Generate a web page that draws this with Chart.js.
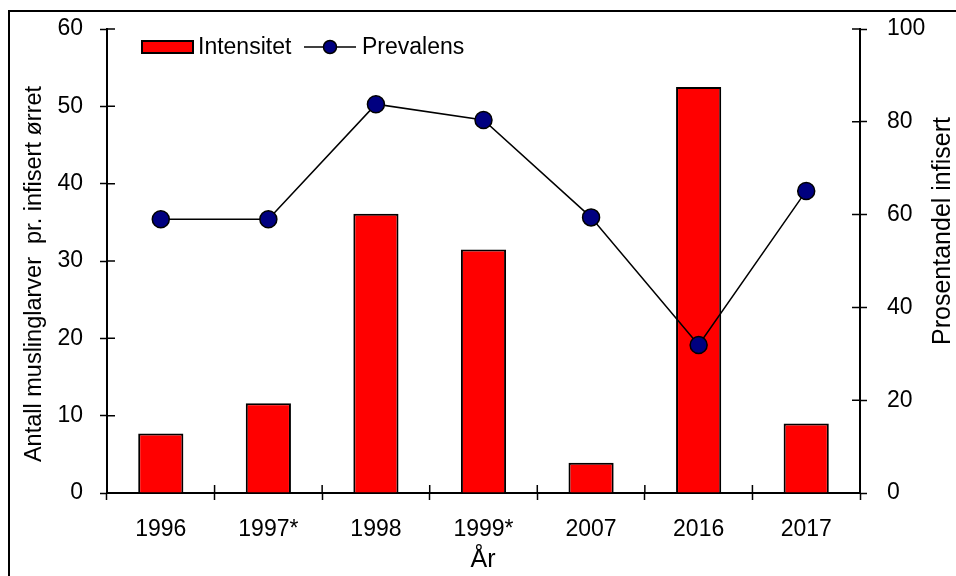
<!DOCTYPE html>
<html>
<head>
<meta charset="utf-8">
<script src="https://cdn.jsdelivr.net/npm/chart.js@4"></script>
<style>
  body { margin: 0; background: #fff; }
  #wrap { width: 956px; height: 576px; }
</style>
</head>
<body>
<div id="wrap"><canvas id="chart" width="956" height="576"></canvas></div>
<script>
const years = ['1996', '1997*', '1998', '1999*', '2007', '2016', '2017'];
const intensitet = [7.7, 11.6, 36.1, 31.5, 3.9, 52.5, 9.0];
const prevalens = [59, 59, 83.8, 80.4, 59.4, 31.9, 65.1];
const leftTicks = [0, 10, 20, 30, 40, 50, 60];
const rightTicks = [0, 20, 40, 60, 80, 100];

const FONT = 'Liberation Sans, Arial, sans-serif';

// inward half of the crossing tick marks, legend, axis titles, outer frame
const extras = {
    id: 'extras',
    afterDraw(chart) {
        const ctx = chart.ctx;
        const area = chart.chartArea;
        const y = chart.scales.y, y1 = chart.scales.y1;
        ctx.save();
        ctx.strokeStyle = '#000';
        ctx.lineWidth = 1.5;
        ctx.beginPath();
        leftTicks.forEach(v => {
            const p = y.getPixelForValue(v);
            ctx.moveTo(area.left, p); ctx.lineTo(area.left + 8, p);
        });
        rightTicks.forEach(v => {
            const p = y1.getPixelForValue(v);
            ctx.moveTo(area.right - 8, p); ctx.lineTo(area.right, p);
        });
        const step = (area.right - area.left) / years.length;
        for (let i = 0; i <= years.length; i++) {
            const p = area.left + i * step;
            ctx.moveTo(p, area.bottom - 8); ctx.lineTo(p, area.bottom);
        }
        ctx.stroke();

        // frame
        ctx.lineWidth = 2;
        ctx.beginPath();
        ctx.moveTo(9, 576); ctx.lineTo(9, 11); ctx.lineTo(956, 11);
        ctx.stroke();

        // legend
        ctx.fillStyle = '#ff0000';
        ctx.fillRect(142, 41, 51, 12);
        ctx.lineWidth = 2;
        ctx.strokeRect(142, 41, 51, 12);
        ctx.fillStyle = '#000';
        ctx.font = '23px ' + FONT;
        ctx.textBaseline = 'middle';
        ctx.textAlign = 'left';
        ctx.fillText('Intensitet', 198, 48);
        ctx.lineWidth = 1.5;
        ctx.beginPath();
        ctx.moveTo(304, 47); ctx.lineTo(356, 47);
        ctx.stroke();
        ctx.beginPath();
        ctx.arc(330, 47, 6.5, 0, Math.PI * 2);
        ctx.fillStyle = '#000080';
        ctx.fill();
        ctx.stroke();
        ctx.fillStyle = '#000';
        ctx.fillText('Prevalens', 362, 48);

        // axis titles
        ctx.textAlign = 'center';
        ctx.font = '25px ' + FONT;
        ctx.fillText('År', 483, 560);
        ctx.save();
        ctx.translate(35, 274);
        ctx.rotate(-Math.PI / 2);
        ctx.font = '23.5px ' + FONT;
        ctx.fillText('Antall muslinglarver  pr. infisert ørret', 0, 0);
        ctx.restore();
        ctx.save();
        ctx.translate(943, 231);
        ctx.rotate(-Math.PI / 2);
        ctx.font = '25px ' + FONT;
        ctx.fillText('Prosentandel infisert', 0, 0);
        ctx.restore();
        ctx.restore();
    }
};

new Chart(document.getElementById('chart'), {
    data: {
        labels: years,
        datasets: [
            {
                type: 'line',
                label: 'Prevalens',
                data: prevalens,
                yAxisID: 'y1',
                order: 0,
                borderColor: '#000',
                borderWidth: 1.5,
                pointRadius: 8.5,
                pointBackgroundColor: '#000080',
                pointBorderColor: '#000',
                pointBorderWidth: 1.5,
                tension: 0
            },
            {
                type: 'bar',
                label: 'Intensitet',
                data: intensitet,
                yAxisID: 'y',
                order: 1,
                backgroundColor: '#ff0000',
                borderColor: '#000',
                borderWidth: 2,
                borderSkipped: 'bottom',
                categoryPercentage: 1,
                barPercentage: 0.42
            }
        ]
    },
    options: {
        responsive: false,
        animation: false,
        layout: { padding: { top: 29, left: 0, right: 0, bottom: 0 } },
        plugins: { legend: { display: false }, tooltip: { enabled: false } },
        scales: {
            x: {
                offset: true,
                grid: { offset: true, drawOnChartArea: false, tickLength: 7, tickColor: '#000', tickWidth: 1.5 },
                border: { color: '#000', width: 2 },
                ticks: { color: '#000', font: { family: FONT, size: 23 }, padding: 16, maxRotation: 0 },
                afterFit: s => { s.height = 83; }
            },
            y: {
                position: 'left',
                min: 0, max: 60,
                afterBuildTicks: s => { s.ticks = leftTicks.map(v => ({ value: v })); },
                grid: { drawOnChartArea: false, tickLength: 7, tickColor: '#000', tickWidth: 1.5 },
                border: { color: '#000', width: 2 },
                ticks: { color: '#000', font: { family: FONT, size: 23 }, padding: 17 },
                afterFit: s => { s.width = 107; s.paddingTop = 0; s.paddingBottom = 0; }
            },
            y1: {
                position: 'right',
                min: 0, max: 100,
                afterBuildTicks: s => { s.ticks = rightTicks.map(v => ({ value: v })); },
                grid: { drawOnChartArea: false, tickLength: 7, tickColor: '#000', tickWidth: 1.5 },
                border: { color: '#000', width: 2 },
                ticks: { color: '#000', font: { family: FONT, size: 23 }, padding: 20 },
                afterFit: s => { s.width = 96; s.paddingTop = 0; s.paddingBottom = 0; }
            }
        }
    },
    plugins: [extras]
});
</script>
</body>
</html>
